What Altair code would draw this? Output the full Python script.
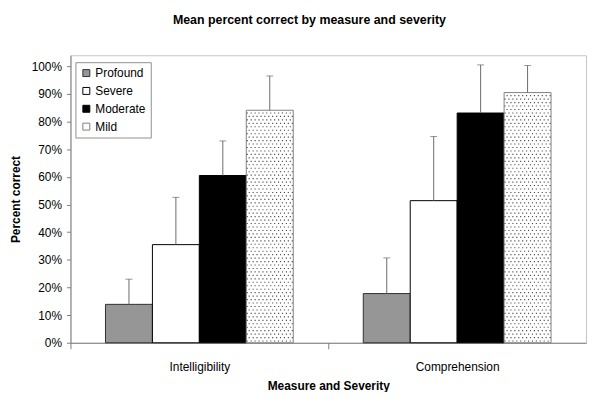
import altair as alt
import pandas as pd

# ---- data ----
measures = ["Intelligibility", "Comprehension"]
severities = ["Profound", "Severe", "Moderate", "Mild"]
intelligibility_mean = [0.139, 0.355, 0.605, 0.841]
intelligibility_err_top = [0.230, 0.526, 0.730, 0.965]
comprehension_mean = [0.178, 0.514, 0.831, 0.905]
comprehension_err_top = [0.307, 0.746, 1.005, 1.003]
y_tick_values = [0.0, 0.1, 0.2, 0.3, 0.4, 0.5, 0.6, 0.7, 0.8, 0.9, 1.0]

# ---- styles ----
fills = ["#969696", "#ffffff", "#000000", "#ffffff"]
strokes = ["#303030", "#000000", "#000000", "#808080"]
FONT = "Liberation Sans"
GREY = "#808080"

rows = []
for m, means, tops in [("Intelligibility", intelligibility_mean, intelligibility_err_top),
                       ("Comprehension", comprehension_mean, comprehension_err_top)]:
    for s, v, t in zip(severities, means, tops):
        rows.append({"measure": m, "severity": s, "value": v, "top": t})
df = pd.DataFrame(rows)

# stipple texture for the "Mild" bars (derived from the Mild values)
SUB_PER_BAR = 24
dot_pitch = 0.0125
mild_idx = severities.index("Mild")
dots = []
for m, means in [("Intelligibility", intelligibility_mean), ("Comprehension", comprehension_mean)]:
    v = means[mild_idx]
    r = 0
    while (r + 0.7) * dot_pitch < v:
        y = (r + 0.5) * dot_pitch
        for c in range(SUB_PER_BAR // 2):
            dots.append({"measure": m, "sub": mild_idx * SUB_PER_BAR + 2 * c + (r % 2), "value": y})
        r += 1
dots_df = pd.DataFrame(dots)

x_enc = alt.X(
    "measure:N",
    sort=measures,
    scale=alt.Scale(paddingInner=0.2717, paddingOuter=0.1358),
    axis=alt.Axis(title="Measure and Severity", labelAngle=0, tickOffset=-130,
                  labelOffset=130, tickSize=6, labelPadding=13, titlePadding=8),
)


def y_enc(field):
    return alt.Y(
        field,
        scale=alt.Scale(domain=[0, 1.04], nice=False),
        axis=alt.Axis(title="Percent correct", values=y_tick_values, format=".0%",
                      grid=False, tickSize=4, labelPadding=5, titlePadding=9,
                      labelOverlap=False),
    )


sev_offset = alt.XOffset("severity:N", sort=severities, scale=alt.Scale(domain=severities))

bars = alt.Chart(df).mark_bar(strokeWidth=1).encode(
    x=x_enc,
    xOffset=sev_offset,
    y=y_enc("value:Q"),
    fill=alt.Fill("severity:N", sort=severities,
                  scale=alt.Scale(domain=severities, range=fills),
                  legend=alt.Legend(title=None, columns=1, gridAlign="none")),
    stroke=alt.Stroke("severity:N", sort=severities,
                      scale=alt.Scale(domain=severities, range=strokes),
                      legend=None),
)

stipple = alt.Chart(dots_df).mark_square(size=1.3, color="#4a4a4a", opacity=1).encode(
    x=x_enc,
    xOffset=alt.XOffset("sub:O", scale=alt.Scale(domain=list(range(len(severities) * SUB_PER_BAR)))),
    y=y_enc("value:Q"),
)

err_rule = alt.Chart(df).mark_rule(color="#6a6a6a", strokeWidth=1).encode(
    x=x_enc,
    xOffset=sev_offset,
    y=y_enc("value:Q"),
    y2="top:Q",
)
err_cap = alt.Chart(df).mark_tick(color="#6a6a6a", thickness=1, size=7).encode(
    x=x_enc,
    xOffset=sev_offset,
    y=y_enc("top:Q"),
)

chart = alt.layer(bars, stipple, err_rule, err_cap).resolve_scale(
    xOffset="independent"
).properties(
    width=520,
    height=290,
    padding={"left": 63, "top": 46, "right": 6, "bottom": 48},
    autosize=alt.AutoSizeParams(type="none"),
    title=alt.Title("Mean percent correct by measure and severity", anchor="middle",
                    dx=-19, offset=29, fontSize=12.5, fontWeight="bold", font=FONT),
).configure_view(
    stroke="#c4c4c4", strokeWidth=1
).configure_axis(
    labelFont=FONT, titleFont=FONT, labelFontSize=12, titleFontSize=12,
    titleFontWeight="bold", labelColor="#000000", titleColor="#000000",
    domainColor=GREY, tickColor=GREY, domainWidth=1, tickWidth=1,
).configure_legend(
    orient="none", legendX=5, legendY=7, padding=5, strokeColor="#909090",
    fillColor="#ffffff", labelFont=FONT, labelFontSize=12, labelColor="#000000",
    symbolType="square", symbolSize=49, symbolStrokeWidth=1, rowPadding=6,
    symbolStrokeColor="#303030", labelOffset=3,
)

chart.save("out.html", embed_options={"renderer": "svg", "actions": False})
